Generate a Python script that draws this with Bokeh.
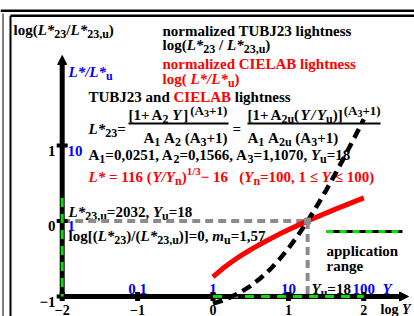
from bokeh.plotting import figure
from bokeh.models import ColumnDataSource, Arrow, NormalHead
from bokeh.core.properties import value, field
from bokeh.embed import file_html
from bokeh.resources import INLINE

# ---------------- data ----------------
log_y = [0.0, 0.125, 0.25, 0.375, 0.5, 0.625, 0.75, 0.875, 1.0,
         1.125, 1.25, 1.375, 1.5, 1.625, 1.75, 1.875, 2.0]
cielab_norm = [-0.741, -0.634, -0.540, -0.456, -0.379, -0.308, -0.241, -0.177, -0.117,
               -0.058, -0.002, 0.052, 0.105, 0.157, 0.207, 0.257, 0.306]
tubj23_norm = [-1.093, -1.053, -1.001, -0.937, -0.858, -0.762, -0.648, -0.515, -0.364,
               -0.194, -0.008, 0.193, 0.406, 0.630, 0.863, 1.103, 1.348]
x_ticks = [-2, -1, 0, 1, 2]
x_tick_labels = ["−2", "−1", "0", "1", "2"]
lin_y_ticks = [-1, 0, 1, 2]
lin_y_labels = ["0,1", "1", "10", "100"]
y_ticks = [-1, 0, 1]
y_tick_labels = ["−1", "0", "1"]
ratio_ticks = [0, 1]
ratio_labels = ["1", "10"]
log_yu = 1.255
app_x = [0, 2]
app_y = [0.306, -1]

RED = "#ff0000"
BLUE = "#0000ff"
GREEN = "#00e000"
GRAY = "#8c8c8c"

# ---------------- geometry ----------------
W, H = 414, 316
X0, SX = 212.5, 75.4
Y0, SY = 220.5, 75.5


def dx(px):
    return (px - X0) / SX


def dy(py):
    return (Y0 - py) / SY


def pxx(x):
    return X0 + SX * x


def pyy(y):
    return Y0 - SY * y


p = figure(width=W, height=H, x_range=(dx(0), dx(W)), y_range=(dy(H), dy(0)),
           output_backend="svg", toolbar_location=None, x_axis_type=None, y_axis_type=None,
           min_border=0, outline_line_color=None, background_fill_color="white",
           border_fill_color="white")
p.grid.visible = False

# ---------------- rich text helper ----------------
BOLD = dict(zip("ABCDEFGHIJKLMNOPQRSTUVWXYZ",
                [722, 667, 722, 722, 667, 611, 778, 778, 389, 500, 778, 667, 944, 722, 778, 611,
                 778, 722, 556, 667, 722, 722, 1000, 722, 722, 667]))
BOLD.update(zip("abcdefghijklmnopqrstuvwxyz",
                [500, 556, 444, 556, 444, 333, 500, 556, 278, 333, 556, 278, 833, 556, 500, 556,
                 556, 444, 389, 333, 556, 500, 722, 500, 500, 444]))
BOLD.update({d: 500 for d in "0123456789"})
BOLD.update({' ': 250, '(': 333, ')': 333, '*': 500, '+': 570, ',': 250, '-': 333, '.': 250,
             '/': 278, '=': 570, '[': 333, ']': 333, '≤': 549, '−': 570, '–': 500})
ITAL = {'L': 611, 'Y': 611, 'm': 778, 'n': 556, 'u': 556, '*': 500, '/': 278}

KIND = {"b": (15, 0, "bold"), "i": (15, 0, "bold italic"),
        "s": (12, 4, "bold"), "p": (13, -4, "bold"), "ps": (10, -1, "bold"),
        "p2": (11, -6, "bold"), "t": (14, 0, "bold"), "ti": (14, 0, "bold italic")}

T = dict(x=[], y=[], text=[], size=[], style=[], color=[])


def width(s, kind):
    size, _, style = KIND[kind]
    tbl = ITAL if "italic" in style else BOLD
    return sum(tbl.get(c, BOLD.get(c, 500)) for c in s) * size / 1000.0


def rich(x, base, runs, color="black", align="left"):
    norm = []
    for r in runs:
        if isinstance(r, (int, float)):
            norm.append(r)
        else:
            norm.append((r[0], r[1], r[2] if len(r) > 2 else color))
    total = sum(r if isinstance(r, (int, float)) else width(r[0], r[1]) for r in norm)
    if align == "center":
        x -= total / 2
    elif align == "right":
        x -= total
    for r in norm:
        if isinstance(r, (int, float)):
            x += r
            continue
        t, k, c = r
        size, off, style = KIND[k]
        lead = len(t) - len(t.lstrip(" "))
        x += width(" " * lead, k)
        s = t.lstrip(" ")
        if s.strip():
            T["x"].append(dx(x))
            T["y"].append(dy(base + off))
            T["text"].append(s)
            T["size"].append("%gpx" % size)
            T["style"].append(style)
            T["color"].append(c)
        x += width(s, k)


# header texts
rich(13, 29.5, [("log(", "b"), ("L*", "i"), ("23", "s"), ("/", "b"), ("L*", "i"),
                ("23,u", "s"), (")", "b")])
rich(162, 30, [("normalized TUBJ23 lightness", "b")])
rich(162, 44.5, [("log(", "b"), ("L*", "i"), ("23", "s"), (" / ", "b"), ("L*", "i"),
                 ("23,u", "s"), (")", "b")])
rich(162, 63.3, [("normalized CIELAB lightness", "b")], color=RED)
rich(162, 78.3, [("log( ", "b"), ("L*/L*", "i"), ("u", "s"), (")", "b")], color=RED)
rich(88, 96.7, [("TUBJ23 and ", "b"), ("CIELAB", "b", RED), (" lightness", "b")])

# formula
rich(88, 128.3, [("L*", "i"), ("23", "s"), ("=", "b")])
rich(128, 114.3, [("[1+", "b"), 2, ("A", "b"), ("2", "s"), (" ", "b"), ("Y", "i"), 2,
                  ("]", "b"), 2, ("(A", "p"), ("3", "ps"), ("+1)", "p")])
rich(143, 137.3, [("A", "b"), ("1", "s"), (" A", "b"), ("2", "s"), (" (A", "b"),
                  ("3", "s"), ("+1)", "b")])
rich(232, 128.3, [("=", "b")])
rich(247, 114.3, [("[1+", "b"), 2, ("A", "b"), ("2u", "s"), ("(", "b"), 1.5, ("Y", "i"),
                  1.5, ("/", "i"), 1.5, ("Y", "i"), ("u", "s"), (")]", "b"), 1,
                  ("(A", "p"), ("3", "ps"), ("+1)", "p")])
rich(247, 137.3, [("A", "b"), ("1", "s"), (" A", "b"), ("2u", "s"), (" (A", "b"),
                  ("3", "s"), ("+1)", "b")])
rich(88, 154.5, [("A", "b"), ("1", "s"), ("=0,0251, A", "b"), ("2", "s"),
                 ("=0,1566, A", "b"), ("3", "s"), ("=1,1070, ", "b"), ("Y", "i"),
                 ("u", "s"), ("=18", "b")])
rich(88, 176.5, [("L*", "i"), (" = 116 (", "b"), ("Y/Y", "i"), ("n", "s"), (")", "b"),
                 ("1/3", "p2"), ("− 16", "b"), ("   ", "b"), ("(", "b"), ("Y", "i"),
                 ("n", "s"), ("=100, 1 ≤ ", "b"), ("Y", "i"), (" ≤ 100)", "b")], color=RED)
rich(68, 211.7, [("L*", "i"), ("23,u", "s"), ("=2032, ", "b"), ("Y", "i"), ("u", "s"),
                 ("=18", "b")])
rich(68, 235, [("log[(", "b"), ("L*", "i"), ("23", "s"), (")/(", "b"), ("L*", "i"),
               ("23,u", "s"), (")]=0, ", "b"), ("m", "i"), ("u", "s"), ("=1,57", "b")])
rich(326, 250, [("application", "b")])
rich(326, 265, [("range", "b")])

# axis labels
rich(68, 71.7, [("L*/L*", "i"), ("u", "s")], color=BLUE)
for xv, lab in zip(x_ticks, x_tick_labels):
    rich(pxx(xv), 309, [(lab, "t")], align="center")
for xv, lab in zip(lin_y_ticks, lin_y_labels):
    rich(pxx(xv), 288, [(lab, "b")], color=BLUE, align="center")
rich(382, 288, [("Y", "i")], color=BLUE)
rich(311, 288, [("Y", "i"), ("u", "s"), ("=18", "b")])
rich(380, 309, [("log ", "t"), ("Y", "ti")])
for yv, lab in zip(y_ticks, y_tick_labels):
    rich(55, pyy(yv) + 5, [(lab, "b")], align="right")
for yv, lab in zip(ratio_ticks, ratio_labels):
    rich(67, pyy(yv) + 5, [(lab, "b")], color=BLUE)

# ---------------- frame ----------------
p.line([dx(0), dx(W)], [dy(10.3)] * 2, line_color="black", line_width=2.5)
p.line([dx(10), dx(W)], [dy(15.3)] * 2, line_color="black", line_width=2.5)
p.line([dx(10)] * 2, [dy(15.3), dy(H)], line_color="black", line_width=2)
p.line([dx(2.5)] * 2, [dy(13), dy(H)], line_color="black", line_width=1)

# text
src = ColumnDataSource(T)
p.text(x="x", y="y", text="text", source=src, text_font=value("Liberation Serif"),
       text_font_size=field("size"), text_font_style=field("style"),
       text_color=field("color"), text_baseline="alphabetic", text_align="left")

# fraction bars
p.segment(x0=[dx(128), dx(247)], y0=[dy(123)] * 2, x1=[dx(228), dx(380)], y1=[dy(123)] * 2,
          line_color="black", line_width=2)

# gray reference lines
p.line([-2, log_yu], [0, 0], line_color=GRAY, line_width=4, line_dash="8 5")
p.line([log_yu, log_yu], [0, -1], line_color=GRAY, line_width=4, line_dash="8 5")

# axes
p.line([-2, -2], [-1, dy(62)], line_color="black", line_width=5)
p.line([-2, dx(401)], [-1, -1], line_color="black", line_width=5)
p.add_layout(Arrow(end=NormalHead(size=9, fill_color="black", line_color="black"),
                   x_start=-2, y_start=dy(80), x_end=-2, y_end=dy(55), line_alpha=0))
p.add_layout(Arrow(end=NormalHead(size=9, fill_color="black", line_color="black"),
                   x_start=dx(380), y_start=-1, x_end=dx(408), y_end=-1, line_alpha=0))
p.segment(x0=x_ticks, y0=[-1 - 4.5 / SY] * 5, x1=x_ticks, y1=[-1 + 4.5 / SY] * 5,
          line_color="black", line_width=5)
p.segment(x0=[-2 - 5.5 / SX] * 3, y0=y_ticks, x1=[-2 + 5.5 / SX] * 3, y1=y_ticks,
          line_color="black", line_width=4)

# application range
p.line(app_x, [-1, -1], line_color=GREEN, line_width=3, line_dash="9 7")
p.line([-2, -2], app_y, line_color=GREEN, line_width=3, line_dash="9 7")
p.line([dx(326), dx(402)], [dy(231)] * 2, line_color="black", line_width=3)
p.line([dx(326), dx(402)], [dy(231)] * 2, line_color=GREEN, line_width=3, line_dash="7 6")

# curves
p.line(log_y, cielab_norm, line_color=RED, line_width=5)
p.line(log_y, tubj23_norm, line_color="black", line_width=4.5, line_dash="10 6")
p.scatter([log_yu], [0], marker="square", size=6, color=GRAY)

open("out.html", "w").write(file_html(p, INLINE))
